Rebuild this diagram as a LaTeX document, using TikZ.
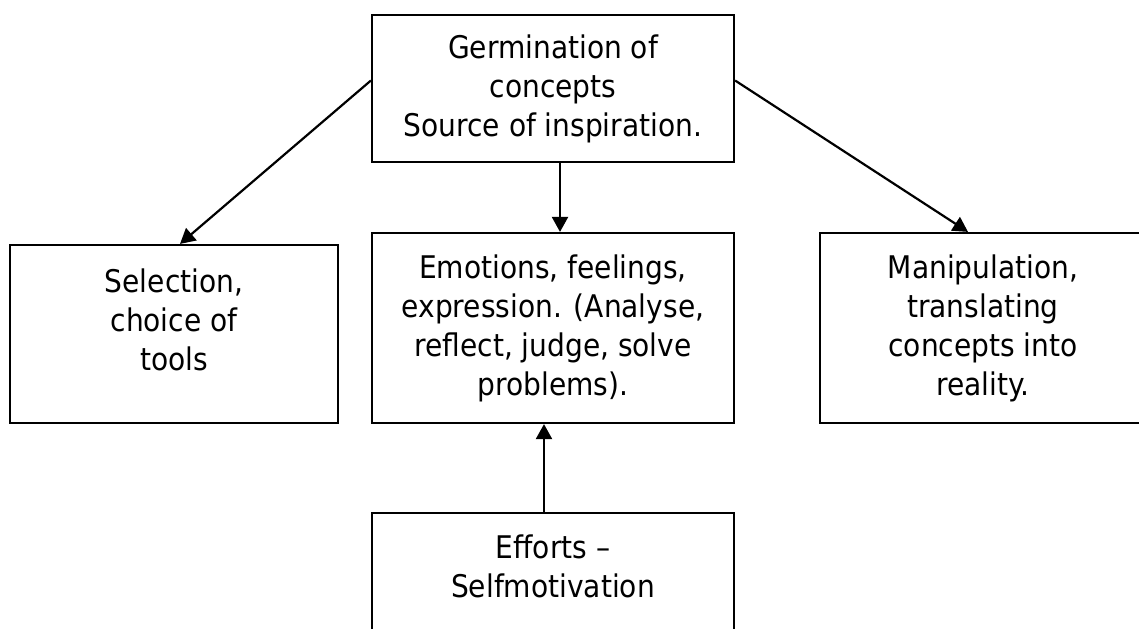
\documentclass[tikz,border=0pt]{standalone}
\usepackage{fontspec}
\setmainfont{DejaVu Sans Condensed}
\usetikzlibrary{arrows.meta,positioning}

\begin{document}
\begin{tikzpicture}[x=0.5pt, y=-0.5pt, ->, >={Triangle[length=7.5pt,width=8pt]}, line width=1.1pt,
    box/.style={draw, rectangle, align=center, inner sep=0pt, font=\fontsize{15.6}{19.5}\selectfont}]

    \path[use as bounding box, clip] (0,0) rectangle (1139,628);

    % Define nodes
    \node (germ) [box, minimum width=181pt, minimum height=73.5pt] at (553,88.5) {Germination of\\concepts\\Source of inspiration.};
    \node (select) [box, minimum width=164pt, minimum height=89pt] at (174,334) {Selection,\\choice of\\tools\rule[-14pt]{0pt}{14pt}};
    \node (emot) [box, minimum width=181pt, minimum height=95pt] at (553,328) {Emotions, feelings,\\expression. (Analyse,\\reflect, judge, solve\\problems).};
    \node (manip) [box, minimum width=163pt, minimum height=95pt] at (983,328) {Manipulation,\\translating\\concepts into\\reality.};
    \node (effort) [box, minimum width=181pt, minimum height=73.5pt] at (553,586.5) {Efforts –\\Selfmotivation\rule[-20pt]{0pt}{20pt}};

    % Connections
    \draw[->] ([yshift=4pt]germ.west) -- ([xshift=3pt]select.north);
    \draw[->] ([yshift=4pt]germ.east) -- ([xshift=-7.5pt]manip.north);
    \draw[->] ([xshift=3.5pt]germ.south) -- ([xshift=3.5pt]emot.north);
    \draw[->] ([xshift=-4.5pt]effort.north) -- ([xshift=-4.5pt]emot.south);

\end{tikzpicture}
\end{document}
